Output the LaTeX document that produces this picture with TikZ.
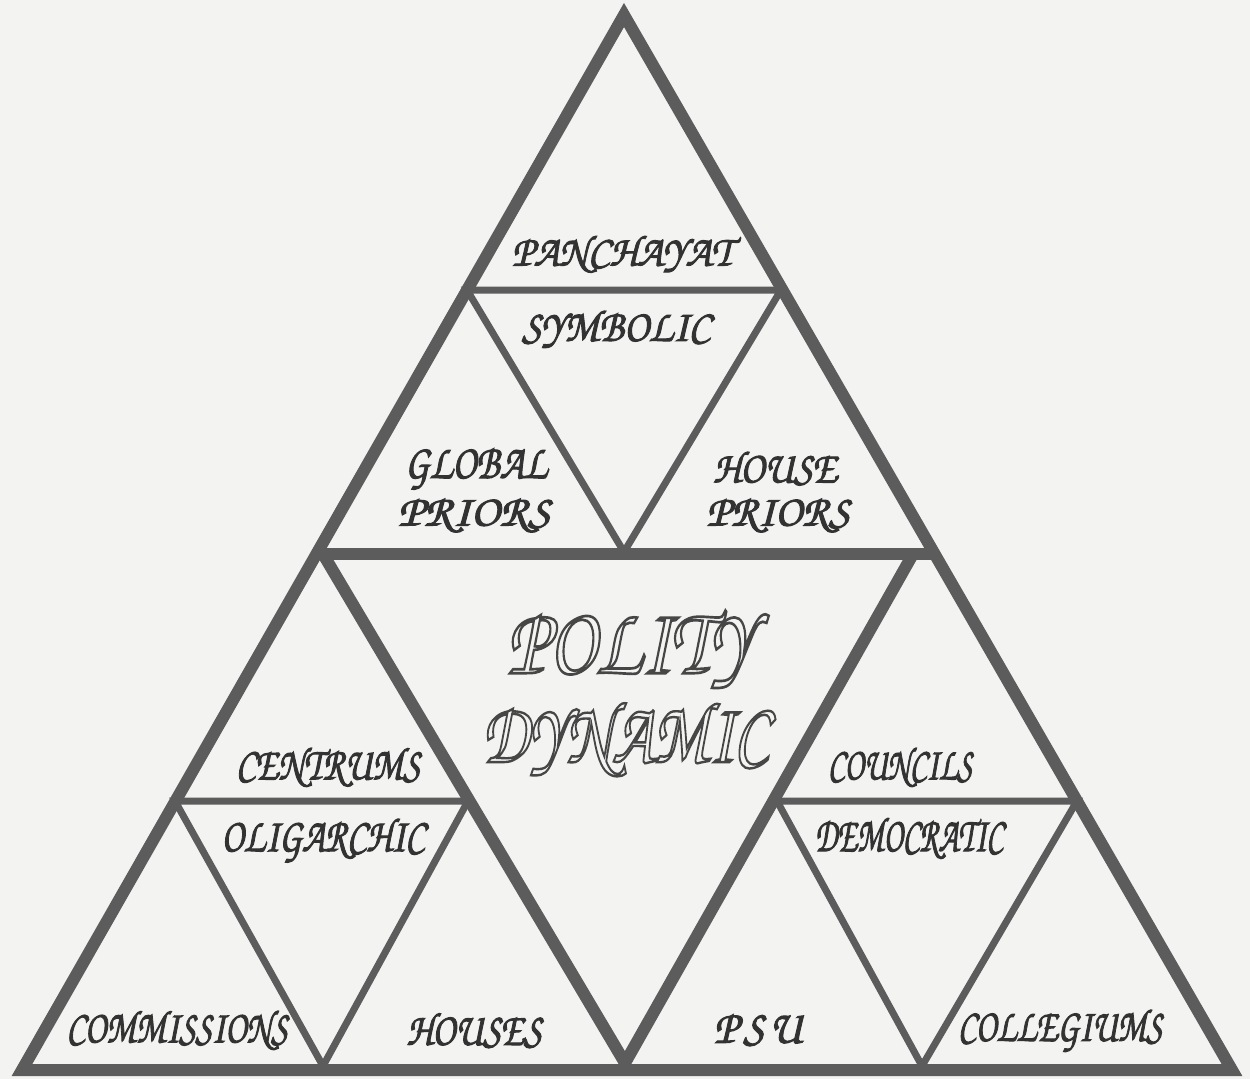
\documentclass[tikz,border=0pt]{standalone}
\usepackage[T1]{fontenc}
\usepackage{graphicx}
\definecolor{paper}{RGB}{243,243,241}
\definecolor{linecol}{RGB}{92,92,92}
\definecolor{textcol}{RGB}{50,50,50}
\definecolor{outlinecol}{RGB}{70,70,70}
\newcommand\zcfont{\usefont{T1}{pzc}{mb}{it}\fontsize{40}{44}\selectfont}
% fill+stroke (slightly heavier letters) and stroke-only (outlined letters)
\newcommand\fstrk[2]{\special{pdf:literal direct 2 Tr #1 w}#2\special{pdf:literal direct 0 Tr}}
\newcommand\ostrk[2]{\special{pdf:literal direct 1 Tr #1 w}#2\special{pdf:literal direct 0 Tr}}
\newcommand\lab[3]{\resizebox{#1bp}{#2bp}{\fstrk{0.9}{\zcfont #3}}}
\newcommand\biglab[3]{\resizebox{#1bp}{#2bp}{\ostrk{1.1}{\zcfont #3}}}
\tikzset{
  thickline/.style={draw=linecol, line width=12bp, line join=miter, line cap=butt},
  thinline/.style={draw=linecol, line width=7bp, line join=miter, line cap=butt},
  lbl/.style={text=textcol, inner sep=0pt},
  biglbl/.style={text=outlinecol, inner sep=0pt},
}
\begin{document}
\begin{tikzpicture}[x=1bp,y=-1bp]
\fill[paper] (0,0) rectangle (1250,1079);
\useasboundingbox (0,0) rectangle (1250,1079);
% main corners
\coordinate (A) at (624,15);
\coordinate (BL) at (22,1070);
\coordinate (BR) at (1232,1070);
% mid bar and middle triangle
\coordinate (ML) at (316,554);
\coordinate (MR) at (934,554);
\coordinate (MTL) at (323,554);
\coordinate (MTR) at (913,554);
\coordinate (MB) at (625,1063);
% top inner
\coordinate (TL) at (467,290);
\coordinate (TR) at (781,290);
\coordinate (TB) at (624,552);
% left inner
\coordinate (LL) at (175,801);
\coordinate (LR) at (468,801);
\coordinate (LB) at (323,1066);
% right inner
\coordinate (RL) at (777,801);
\coordinate (RR) at (1077,801);
\coordinate (RB) at (922,1066);

% thin inner triangles
\draw[thinline] (TL) -- (TR) -- (TB) -- cycle;
\draw[thinline] (LL) -- (LR) -- (LB) -- cycle;
\draw[thinline] (RL) -- (RR) -- (RB) -- cycle;
% middle structure
\draw[thickline] (ML) -- (MR);
\draw[thickline] (MTL) -- (MB) -- (MTR);
% outer triangle
\draw[thickline] (A) -- (BL) -- (BR) -- cycle;

% labels
\node[lbl] (panchayat) at (622,254) {\lab{220}{31}{PANCHAYAT}};
\node[lbl] (symbolic) at (616,329) {\lab{188}{32}{SYMBOLIC}};
\node[lbl] (global) at (476,468) {\lab{142}{32}{GLOBAL}};
\node[lbl] (priorsl) at (474,515) {\lab{152}{29}{PRIORS}};
\node[lbl] (house) at (775,468) {\lab{124}{32}{HOUSE}};
\node[lbl] (priorsr) at (778,515) {\lab{143}{29}{PRIORS}};
\node[biglbl] (polity) at (630,650) {\biglab{246}{64}{POLITY}};
\node[biglbl] (dynamic) at (625,739) {\biglab{286}{62}{DYNAMIC}};
\node[lbl] (centrums) at (328,767) {\lab{184}{33}{CENTRUMS}};
\node[lbl] (councils) at (900,767) {\lab{144}{33}{COUNCILS}};
\node[lbl] (oligarchic) at (323,840) {\lab{203}{34}{OLIGARCHIC}};
\node[lbl] (democratic) at (909,838) {\lab{188}{35}{DEMOCRATIC}};
\node[lbl] (commissions) at (177,1030) {\lab{221}{33}{COMMISSIONS}};
\node[lbl] (houses) at (474,1030) {\lab{135}{33}{HOUSES}};
\node[lbl] (psu) at (758,1030) {\lab{88}{29}{P\kern5pt S\kern5pt U}};
\node[lbl] (collegiums) at (1060,1030) {\lab{204}{33}{COLLEGIUMS}};
\end{tikzpicture}
\end{document}
